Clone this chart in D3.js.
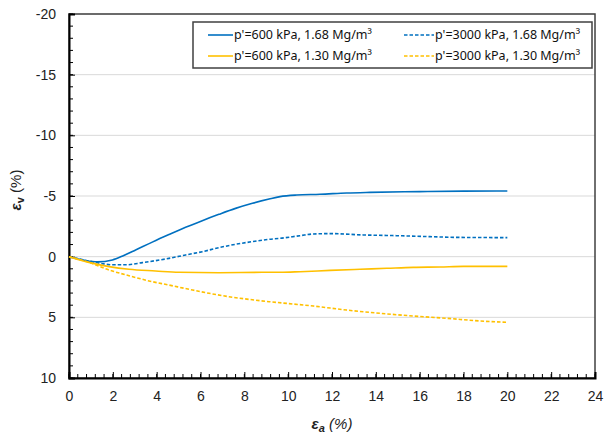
<!DOCTYPE html>
<html>
<head>
  <meta charset="utf-8">
  <style>
    body { margin: 0; background: #fff; }
  </style>
</head>
<body>
  <svg width="606" height="436"></svg>
  <script src="https://cdn.jsdelivr.net/npm/d3@7"></script>
  <script>
    // axial strain (%) and volumetric strain (%)
    var ea600_168 = [0, 0.7, 1.3, 1.98, 2.5, 3.04, 3.8, 4.56, 5.32, 6.08, 6.84, 7.6, 8.37, 9.13, 9.63, 10.39, 11.45, 12.67, 13.73, 16.0, 18.0, 20.0];
    var ev600_168 = [0, 0.3, 0.43, 0.27, -0.1, -0.55, -1.2, -1.82, -2.42, -2.97, -3.49, -3.98, -4.4, -4.75, -4.95, -5.08, -5.14, -5.25, -5.3, -5.36, -5.4, -5.41];

    var ea3000_168 = [0, 0.91, 1.52, 1.98, 2.59, 3.35, 4.56, 5.32, 6.08, 6.84, 7.6, 8.37, 9.13, 9.63, 10.54, 11.15, 11.91, 13.43, 14.95, 16.47, 17.69, 20.0];
    var ev3000_168 = [0, 0.36, 0.58, 0.67, 0.67, 0.49, 0.14, -0.14, -0.41, -0.74, -1.02, -1.24, -1.43, -1.51, -1.73, -1.87, -1.9, -1.79, -1.73, -1.65, -1.59, -1.57];

    var ea600_130 = [0, 0.91, 1.83, 2.74, 3.95, 5.02, 6.84, 8.82, 9.63, 10.54, 11.91, 13.28, 14.5, 15.71, 16.93, 17.99, 20.0];
    var ev600_130 = [0, 0.47, 0.82, 1.04, 1.18, 1.29, 1.32, 1.29, 1.29, 1.24, 1.13, 1.04, 0.96, 0.88, 0.85, 0.8, 0.8];

    var ea3000_130 = [0, 0.91, 1.83, 2.74, 3.65, 4.56, 5.48, 6.39, 7.3, 8.21, 9.13, 10.04, 11.15, 12.67, 14.19, 15.71, 17.23, 18.75, 20.0];
    var ev3000_130 = [0, 0.47, 1.1, 1.57, 2.0, 2.34, 2.69, 3.02, 3.3, 3.52, 3.71, 3.87, 4.07, 4.4, 4.67, 4.89, 5.08, 5.3, 5.41];

    var xTicks = [0, 2, 4, 6, 8, 10, 12, 14, 16, 18, 20, 22, 24];
    var yTicks = [-20, -15, -10, -5, 0, 5, 10];

    var series = [
      { name: "p'=600 kPa, 1.68 Mg/m\u00b3", x: ea600_168, y: ev600_168, color: "#0070c0", dash: null },
      { name: "p'=3000 kPa, 1.68 Mg/m\u00b3", x: ea3000_168, y: ev3000_168, color: "#0070c0", dash: "3.5,2" },
      { name: "p'=600 kPa, 1.30 Mg/m\u00b3", x: ea600_130, y: ev600_130, color: "#ffc000", dash: null },
      { name: "p'=3000 kPa, 1.30 Mg/m\u00b3", x: ea3000_130, y: ev3000_130, color: "#ffc000", dash: "3.5,2" }
    ];

    var svg = d3.select("svg"),
      pL = 69, pR = 595, pT = 14, pB = 378;

    var x = d3.scaleLinear().domain([0, 24]).range([pL, pR]);
    var y = d3.scaleLinear().domain([-20, 10]).range([pT, pB]);

    // gridlines
    svg.append("g")
      .selectAll("line")
      .data(yTicks)
      .enter().append("line")
      .attr("x1", pL).attr("x2", pR)
      .attr("y1", y).attr("y2", y)
      .attr("stroke", "#d9d9d9")
      .attr("stroke-width", 1);

    // plot frame
    svg.append("rect")
      .attr("x", pL).attr("y", pT)
      .attr("width", pR - pL).attr("height", pB - pT)
      .attr("fill", "none")
      .attr("stroke", "#404040")
      .attr("stroke-width", 1.5);

    // minor ticks (inside)
    svg.append("g")
      .selectAll("line")
      .data(d3.range(0, 24.001, 0.4))
      .enter().append("line")
      .attr("x1", x).attr("x2", x)
      .attr("y1", pB).attr("y2", pB - 4)
      .attr("stroke", "#000");

    svg.append("g")
      .selectAll("line")
      .data(d3.range(-20, 10.001, 1))
      .enter().append("line")
      .attr("y1", y).attr("y2", y)
      .attr("x1", pL).attr("x2", pL + 4)
      .attr("stroke", "#000");

    // axes
    var xAxis = svg.append("g")
      .attr("transform", "translate(0," + pB + ")")
      .call(d3.axisBottom(x).tickValues(xTicks).tickSize(-6).tickPadding(13).tickFormat(d3.format("d")));
    var yAxis = svg.append("g")
      .attr("transform", "translate(" + pL + ",0)")
      .call(d3.axisLeft(y).tickValues(yTicks).tickSize(-6).tickPadding(13).tickFormat(function (d) { return d < 0 ? "-" + (-d) : d; }));

    [xAxis, yAxis].forEach(function (a) {
      a.select(".domain").attr("stroke", "#000").attr("stroke-width", 2);
      a.selectAll(".tick line").attr("stroke", "#000");
      a.selectAll(".tick text")
        .attr("fill", "#222")
        .style("font-family", "'Liberation Sans', Arial, sans-serif")
        .style("font-size", "14px");
    });

    // curves
    var line = d3.line()
      .x(function (d) { return x(d[0]); })
      .y(function (d) { return y(d[1]); })
      .curve(d3.curveMonotoneX);

    svg.append("g")
      .selectAll("path")
      .data(series)
      .enter().append("path")
      .attr("d", function (s) { return line(s.x.map(function (v, i) { return [v, s.y[i]]; })); })
      .attr("fill", "none")
      .attr("stroke", function (s) { return s.color; })
      .attr("stroke-width", 1.6)
      .attr("stroke-dasharray", function (s) { return s.dash; });

    // legend
    var legend = svg.append("g");
    legend.append("rect")
      .attr("x", 193).attr("y", 22)
      .attr("width", 399).attr("height", 46)
      .attr("fill", "#fff")
      .attr("stroke", "#404040")
      .attr("stroke-width", 1.5);

    var item = legend.selectAll("g")
      .data(series)
      .enter().append("g")
      .attr("transform", function (d, i) { return "translate(" + (i % 2 ? 404 : 208) + "," + (i < 2 ? 35 : 56) + ")"; });

    item.append("line")
      .attr("x1", 0).attr("x2", function (d, i) { return i % 2 ? 30 : 25; })
      .attr("stroke", function (d) { return d.color; })
      .attr("stroke-width", 1.6)
      .attr("stroke-dasharray", function (d) { return d.dash; });

    item.append("text")
      .attr("x", function (d, i) { return i % 2 ? 31 : 26; })
      .attr("dy", "0.35em")
      .attr("fill", "#111")
      .style("font-family", "'Noto Sans', sans-serif")
      .style("font-size", "12.5px")
      .text(function (d) { return d.name; });

    // axis titles
    var xt = svg.append("text")
      .attr("x", 332).attr("y", 429)
      .attr("text-anchor", "middle")
      .attr("fill", "#222")
      .style("font-family", "'Liberation Sans', Arial, sans-serif")
      .style("font-size", "15px")
      .style("font-style", "italic");
    xt.append("tspan").attr("font-weight", "bold").text("\u03b5");
    xt.append("tspan").attr("font-weight", "bold").attr("dy", 3).style("font-size", "11px").text("a");
    xt.append("tspan").attr("dy", -3).text(" (%)");

    var yt = svg.append("text")
      .attr("transform", "translate(21,190) rotate(-90)")
      .attr("text-anchor", "middle")
      .attr("fill", "#222")
      .style("font-family", "'Liberation Sans', Arial, sans-serif")
      .style("font-size", "15px");
    yt.append("tspan").attr("font-weight", "bold").attr("font-style", "italic").text("\u03b5");
    yt.append("tspan").attr("font-weight", "bold").attr("dy", 3).style("font-size", "11px").text("v");
    yt.append("tspan").attr("dy", -3).text(" (%)");
  </script>
</body>
</html>
